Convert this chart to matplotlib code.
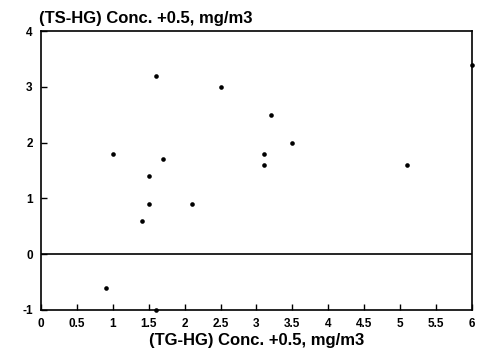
import matplotlib
matplotlib.use("Agg")
import matplotlib.pyplot as plt

x_vals = [0.9, 1.6, 1.0, 1.7, 1.5, 1.5, 2.1, 1.4, 1.6, 2.5, 6.0, 3.2, 3.5, 3.1, 3.1, 5.1]
y_vals = [-0.6, -1.0, 1.8, 1.7, 1.4, 0.9, 0.9, 0.6, 3.2, 3.0, 3.4, 2.5, 2.0, 1.8, 1.6, 1.6]
x_ticks = [0, 0.5, 1, 1.5, 2, 2.5, 3, 3.5, 4, 4.5, 5, 5.5, 6]
x_tick_labels = ["0", "0.5", "1", "1.5", "2", "2.5", "3", "3.5", "4", "4.5", "5", "5.5", "6"]
y_ticks = [-1, 0, 1, 2, 3, 4]
y_tick_labels = ["-1", "0", "1", "2", "3", "4"]
x_label = "(TG-HG) Conc. +0.5, mg/m3"
y_label = "(TS-HG) Conc. +0.5, mg/m3"

plt.rcParams['font.family'] = ['Liberation Sans', 'DejaVu Sans']

fig = plt.figure(figsize=(4.91, 3.54), dpi=100)
ax = fig.add_axes([0.0835, 0.1243, 0.8778, 0.7877])
ax.scatter(x_vals, y_vals, s=11, color="black", zorder=3, clip_on=False, linewidths=0)
ax.axhline(0, color="black", linewidth=1.2)
ax.set_xlim(0, 6)
ax.set_ylim(-1, 4)
ax.set_xticks(x_ticks)
ax.set_xticklabels(x_tick_labels, fontsize=8.5, fontweight="bold")
ax.set_yticks(y_ticks)
ax.set_yticklabels(y_tick_labels, fontsize=8.5, fontweight="bold")
ax.tick_params(direction="in", length=4, width=1, pad=6)
for s in ax.spines.values():
    s.set_linewidth(1.2)
ax.set_xlabel(x_label, fontsize=12, fontweight="bold", labelpad=2)
fig.text(0.08, 0.934, y_label, fontsize=12, fontweight="bold", ha="left", va="baseline")
fig.savefig("out.png", dpi=100)
